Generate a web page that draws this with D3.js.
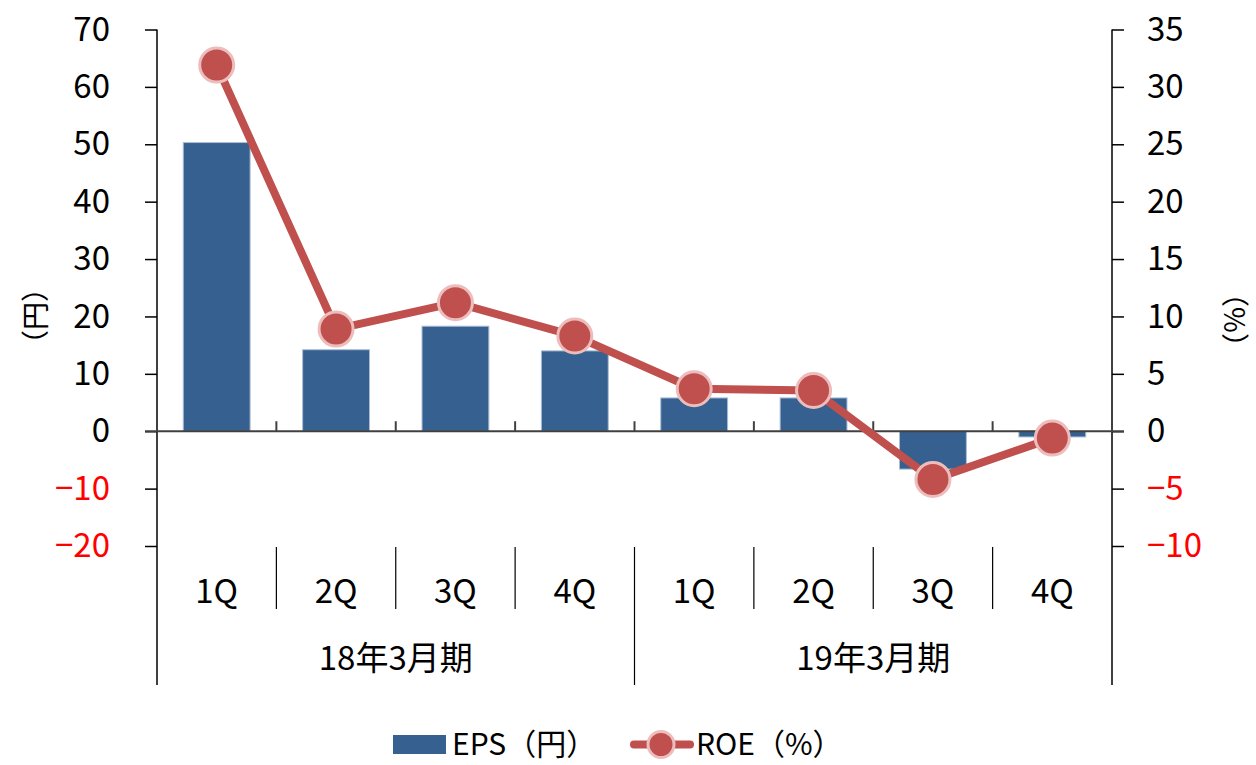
<!DOCTYPE html>
<html><head><meta charset="utf-8">
<script src="https://cdn.jsdelivr.net/npm/d3@7/dist/d3.min.js"></script>
<style>
html,body{margin:0;padding:0;background:#fff;}
svg{display:block;font-family:"Noto Sans CJK JP","Noto Sans",sans-serif;}
</style></head>
<body>
<svg id="c" width="1256" height="765"></svg>
<script>
const quarters = ["1Q","2Q","3Q","4Q","1Q","2Q","3Q","4Q"];
const groups = ["18年3月期","19年3月期"];
const eps = [50.3, 14.2, 18.3, 14.0, 5.8, 5.8, -6.6, -1.0];
const roe = [31.9, 8.9, 11.2, 8.3, 3.7, 3.55, -4.2, -0.6];
const leftTicks = [70,60,50,40,30,20,10,0,-10,-20];
const rightTicks = [35,30,25,20,15,10,5,0,-5,-10];
const seriesNames = ["EPS（円）","ROE（%）"];
const axisTitles = ["（円）","（%）"];

const svg = d3.select("#c");
const X0 = 157, X1 = 1112, YT = 29.5, YB = 546, YEND = 685;
const ids = quarters.map((q,i)=>i);
const x = d3.scaleBand().domain(ids).range([X0,X1]).paddingInner(0.44).paddingOuter(0.22);
const xc = d3.scaleBand().domain(ids).range([X0,X1]);
const yL = d3.scaleLinear().domain([-20,70]).range([YB,YT]);
const yR = d3.scaleLinear().domain([-10,35]).range([YB,YT]);
const fmt = v => v < 0 ? "\u2212" + Math.abs(v) : String(v);
const FS = 33;

// bars
svg.append("g").selectAll("rect").data(eps).join("rect")
  .attr("x",(d,i)=>x(i)).attr("width",x.bandwidth())
  .attr("y",d=>yL(Math.max(0,d))).attr("height",d=>Math.abs(yL(d)-yL(0)))
  .attr("fill","#36608F").attr("stroke","#a9bcd4").attr("stroke-width",1);

// left axis
const gl = svg.append("g").attr("transform",`translate(${X0},0)`)
  .call(d3.axisLeft(yL).tickValues(leftTicks).tickSize(12).tickPadding(35).tickFormat(fmt));
gl.select(".domain").remove();
gl.selectAll(".tick line").attr("stroke","#000").attr("stroke-width",1.5);
gl.selectAll(".tick text").attr("font-size",FS).attr("font-family","Noto Sans CJK JP")
  .attr("fill",d=>d<0?"#FF0000":"#000");
svg.append("line").attr("x1",X0).attr("x2",X0).attr("y1",YT).attr("y2",YEND).attr("stroke","#000").attr("stroke-width",1.5);

// right axis
const gr = svg.append("g").attr("transform",`translate(${X1},0)`)
  .call(d3.axisRight(yR).tickValues(rightTicks).tickSize(12).tickPadding(23).tickFormat(fmt));
gr.select(".domain").remove();
gr.selectAll(".tick line").attr("stroke","#000").attr("stroke-width",1.5);
gr.selectAll(".tick text").attr("font-size",FS).attr("font-family","Noto Sans CJK JP")
  .attr("fill",d=>d<0?"#FF0000":"#000");
svg.append("line").attr("x1",X1).attr("x2",X1).attr("y1",YT).attr("y2",YEND).attr("stroke","#000").attr("stroke-width",1.5);

// zero line
svg.append("line").attr("x1",X0-12).attr("x2",X1+12).attr("y1",yL(0)).attr("y2",yL(0))
  .attr("stroke","#404040").attr("stroke-width",2);

// category ticks above zero line
const bounds = ids.slice(1).map(i=>xc(i));
svg.append("g").selectAll("line").data(bounds).join("line")
  .attr("x1",d=>d).attr("x2",d=>d).attr("y1",yL(0)-10).attr("y2",yL(0))
  .attr("stroke","#404040").attr("stroke-width",2);

// bottom separators
svg.append("g").selectAll("line").data(bounds).join("line")
  .attr("x1",d=>d).attr("x2",d=>d).attr("y1",547).attr("y2",(d,i)=>i===3?YEND:609)
  .attr("stroke","#000").attr("stroke-width",1.2);

// quarter labels
svg.append("g").selectAll("text").data(quarters).join("text")
  .attr("x",(d,i)=>xc(i)+xc.bandwidth()/2).attr("y",603)
  .attr("text-anchor","middle").attr("font-size",FS).text(d=>d);

// group labels
svg.append("g").selectAll("text").data(groups).join("text")
  .attr("x",(d,i)=>(xc(i*4)+xc(i*4+3)+xc.bandwidth())/2).attr("y",670)
  .attr("text-anchor","middle").attr("font-size",FS).text(d=>d);

// ROE line
const line = d3.line().x((d,i)=>xc(i)+xc.bandwidth()/2).y(d=>yR(d));
svg.append("path").datum(roe).attr("d",line).attr("fill","none")
  .attr("stroke","#C0504D").attr("stroke-width",8).attr("stroke-linejoin","round");
svg.append("g").selectAll("circle").data(roe).join("circle")
  .attr("cx",(d,i)=>xc(i)+xc.bandwidth()/2).attr("cy",d=>yR(d)).attr("r",17)
  .attr("fill","#C0504D").attr("stroke","#ECBDBC").attr("stroke-width",3);

// axis titles
svg.append("text").attr("transform","translate(34,316) rotate(-90)")
  .attr("text-anchor","middle").attr("dominant-baseline","central").attr("font-size",28).text(axisTitles[0]);
svg.append("text").attr("transform","translate(1236,320) rotate(90)")
  .attr("text-anchor","middle").attr("dominant-baseline","central").attr("font-size",28).text(axisTitles[1]);

// legend
svg.append("rect").attr("x",393).attr("y",735).attr("width",53).attr("height",19).attr("fill","#36608F");
svg.append("text").attr("x",452).attr("y",755).attr("font-size",30).text(seriesNames[0]);
svg.append("line").attr("x1",634).attr("x2",690).attr("y1",744.5).attr("y2",744.5)
  .attr("stroke","#C0504D").attr("stroke-width",8).attr("stroke-linecap","round");
svg.append("circle").attr("cx",661).attr("cy",744.5).attr("r",13)
  .attr("fill","#C0504D").attr("stroke","#ECBDBC").attr("stroke-width",3);
svg.append("text").attr("x",696).attr("y",755).attr("font-size",30).text(seriesNames[1]);
</script>
</body></html>
